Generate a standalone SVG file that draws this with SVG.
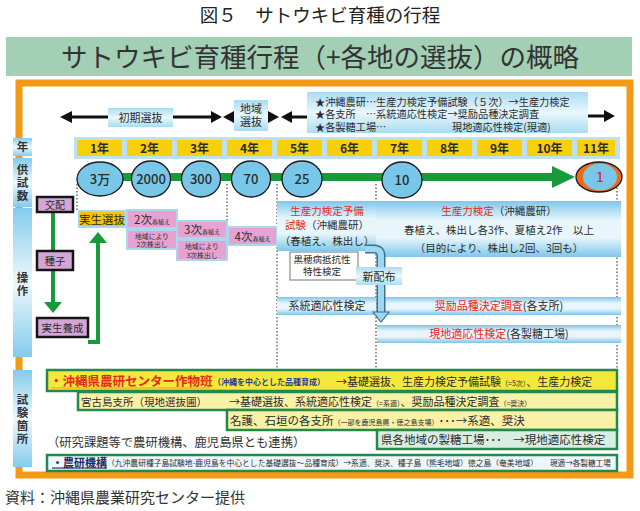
<svg xmlns="http://www.w3.org/2000/svg" width="640" height="511" viewBox="0 0 640 511">
<defs>
<linearGradient id="gBand" x1="0" y1="0" x2="0" y2="1">
<stop offset="0" stop-color="#7fc6ea"/><stop offset="0.35" stop-color="#e8f6fc"/><stop offset="0.65" stop-color="#e8f6fc"/><stop offset="1" stop-color="#7fc6ea"/>
</linearGradient>
<linearGradient id="gHead" x1="0" y1="0" x2="0" y2="1">
<stop offset="0" stop-color="#a9dcf2"/><stop offset="0.5" stop-color="#eaf7fd"/><stop offset="1" stop-color="#a9dcf2"/>
</linearGradient>
<linearGradient id="gLabel" x1="0" y1="0" x2="0" y2="1">
<stop offset="0" stop-color="#84cbed"/><stop offset="0.5" stop-color="#eef8fd"/><stop offset="1" stop-color="#84cbed"/>
</linearGradient>
<style>
text{font-family:'Noto Sans CJK JP','Noto Sans CJK SC',sans-serif;fill:#2b2b2b}
.c{text-anchor:middle}
.lab{fill:url(#gLabel)}
.lt{font-size:11.5px;font-weight:bold;fill:#333;text-anchor:middle;writing-mode:vertical-rl;letter-spacing:1.5px}
.yc{fill:#f8cf08}
.yt{font-size:12px;font-weight:bold;text-anchor:middle}
.circ{fill:#78c6e8;stroke:#1a1a1a;stroke-width:1.3}
.ct{font-size:13px;text-anchor:middle;font-weight:500}
.pur{fill:#d4a6d6;stroke:#151515;stroke-width:2.5}
.pink{fill:#e6a3d2;stroke:#a9d8ec;stroke-width:2}
.band{fill:url(#gBand)}
.head{fill:url(#gHead)}
.red{fill:#e8261a}
.dot{stroke:#555;stroke-width:1.3;stroke-dasharray:1.5 2;fill:none}
.blk{stroke:#111;stroke-width:3;fill:none}
.grn{stroke:#179a3a;fill:none}
.row{stroke:#23894c;stroke-width:2.5}
</style>
</defs>

<text x="320" y="22" class="c" style="font-size:18.5px;fill:#222">図５　サトウキビ育種の行程</text>
<rect x="6" y="37" width="626" height="39" fill="#a3cfb5"/>
<text x="320" y="67" class="c" style="font-size:26.5px;fill:#333">サトウキビ育種行程（+各地の選抜）の概略</text>

<rect x="19" y="83" width="611" height="392" fill="#fff" stroke="#f39a17" stroke-width="7"/>

<g id="connectors">
<line class="dot" x1="77" y1="184" x2="77" y2="210"/>
<line class="dot" x1="227" y1="184" x2="227" y2="222"/>
<line class="dot" x1="277" y1="184" x2="277" y2="370"/>
<line class="dot" x1="376" y1="184" x2="376" y2="370"/>
<line class="dot" x1="617" y1="184" x2="617" y2="370"/>
<line class="blk" x1="108" y1="117" x2="70" y2="117"/>
<polygon points="60,117 72,111 72,123" fill="#111"/>
<line class="blk" x1="173" y1="117" x2="212" y2="117"/>
<polygon points="222,117 211,111 211,123" fill="#111"/>
<polygon points="223,117 234,111 234,123" fill="#111"/>
<polygon points="279,117 268,111 268,123" fill="#111"/>
<line class="blk" x1="290" y1="117" x2="307" y2="117"/>
<polygon points="281,117 292,111 292,123" fill="#111"/>
<line class="blk" x1="588" y1="116" x2="605" y2="116"/>
<polygon points="615,116 604,110 604,122" fill="#111"/>
<line class="grn" x1="100" y1="177" x2="554" y2="177" stroke-width="8"/>
<polygon points="552,166 575,177 552,188" fill="#179a3a"/>
<line class="grn" x1="53" y1="212" x2="53" y2="303" stroke-width="4"/>
<polygon points="44,302 62,302 53,313" fill="#179a3a"/>
<path class="grn" d="M88,342 H98 V242" stroke-width="4"/>
<polygon points="89,243 107,243 98,232" fill="#179a3a"/>
</g>

<g id="labels">
<rect class="lab" x="13" y="138" width="19" height="18"/>
<text x="22.5" y="147.8" class="lt">年</text>
<rect class="lab" x="13" y="158" width="19" height="49"/>
<text x="22.5" y="183.5" class="lt">供試数</text>
<rect class="lab" x="13" y="208" width="19" height="149"/>
<text x="22.5" y="285" class="lt">操作</text>
<rect class="lab" x="13" y="370" width="19" height="97"/>
<text x="22.5" y="420" class="lt">試験箇所</text>
</g>

<g id="header">
<rect class="head" x="108" y="108" width="65" height="19"/>
<text x="140.5" y="122" class="c" style="font-size:11px">初期選抜</text>
<rect class="head" x="234" y="100" width="34" height="31"/>
<text class="c" style="font-size:11px"><tspan x="251" y="113">地域</tspan><tspan x="251" y="126">選抜</tspan></text>
<rect class="head" x="307" y="92" width="281" height="41"/>
<text style="font-size:10.2px"><tspan x="315" y="105.5">★沖縄農研…生産力検定予備試験（５次）→生産力検定</tspan><tspan x="315" y="118">★各支所　…系統適応性検定→奨励品種決定調査</tspan><tspan x="315" y="130.5">★各製糖工場…</tspan><tspan x="452" y="130.5">現地適応性検定(現適)</tspan></text>
</g>

<g id="years">
<rect x="74" y="137" width="546" height="22" fill="#bfe1ef"/>
<rect class="yc" x="77" y="140" width="45" height="16"/><text x="99.5" y="153" class="yt">1年</text>
<rect class="yc" x="127" y="140" width="45" height="16"/><text x="149.5" y="153" class="yt">2年</text>
<rect class="yc" x="177" y="140" width="45" height="16"/><text x="199.5" y="153" class="yt">3年</text>
<rect class="yc" x="227" y="140" width="45" height="16"/><text x="249.5" y="153" class="yt">4年</text>
<rect class="yc" x="277" y="140" width="45" height="16"/><text x="299.5" y="153" class="yt">5年</text>
<rect class="yc" x="327" y="140" width="45" height="16"/><text x="349.5" y="153" class="yt">6年</text>
<rect class="yc" x="377" y="140" width="45" height="16"/><text x="399.5" y="153" class="yt">7年</text>
<rect class="yc" x="427" y="140" width="45" height="16"/><text x="449.5" y="153" class="yt">8年</text>
<rect class="yc" x="477" y="140" width="45" height="16"/><text x="499.5" y="153" class="yt">9年</text>
<rect class="yc" x="527" y="140" width="45" height="16"/><text x="549.5" y="153" class="yt">10年</text>
<rect class="yc" x="577" y="140" width="38" height="16"/><text x="596" y="153" class="yt">11年</text>
</g>

<g id="counts">
<ellipse class="circ" cx="100" cy="179" rx="23" ry="17"/><text x="100" y="184" class="ct">3万</text>
<ellipse class="circ" cx="151" cy="179" rx="19.5" ry="18"/><text x="151" y="184" class="ct">2000</text>
<ellipse class="circ" cx="201" cy="179" rx="19.5" ry="18"/><text x="201" y="184" class="ct">300</text>
<ellipse class="circ" cx="251" cy="179" rx="19.5" ry="18"/><text x="251" y="184" class="ct">70</text>
<ellipse class="circ" cx="302" cy="179" rx="20" ry="18"/><text x="302" y="184" class="ct">25</text>
<ellipse class="circ" cx="402" cy="180" rx="20" ry="18"/><text x="402" y="185" class="ct">10</text>
<ellipse cx="599" cy="177" rx="23" ry="15" fill="#f06a1a" stroke="#1a1a1a" stroke-width="1.3"/>
<ellipse cx="600" cy="177" rx="17" ry="13.5" fill="#78c6e8"/>
<text x="600" y="182" class="ct" style="fill:#e0205f">1</text>
</g>

<g id="ops-left">
<rect class="pur" x="37" y="197" width="36" height="15"/><text x="55" y="208.5" class="c" style="font-size:10px">交配</text>
<rect class="pur" x="37" y="251" width="36" height="19"/><text x="55" y="264.5" class="c" style="font-size:10.5px">種子</text>
<rect class="pur" x="37" y="318" width="51" height="19"/><text x="62.5" y="331.5" class="c" style="font-size:10.5px">実生養成</text>
</g>

<g id="ops-select">
<rect x="79" y="211" width="46" height="16" fill="#f7c500" stroke="#a9d8ec" stroke-width="2"/>
<text x="102" y="223.5" class="c" style="font-size:11.5px">実生選抜</text>
<rect class="pink" x="127" y="210" width="50" height="18"/>
<text x="152" y="223.5" class="c"><tspan style="font-size:11.5px">2次</tspan><tspan style="font-size:6px">春植え</tspan></text>
<rect class="pink" x="127" y="230" width="50" height="19"/>
<text class="c" style="font-size:6.8px"><tspan x="152" y="238.5">地域により</tspan><tspan x="152" y="246.5">2次株出し</tspan></text>
<rect class="pink" x="177" y="221" width="50" height="17"/>
<text x="202" y="234" class="c"><tspan style="font-size:11.5px">3次</tspan><tspan style="font-size:6px">春植え</tspan></text>
<rect class="pink" x="177" y="240" width="50" height="20"/>
<text class="c" style="font-size:6.8px"><tspan x="202" y="249">地域により</tspan><tspan x="202" y="257.5">3次株出し</tspan></text>
<rect class="pink" x="228" y="227" width="49" height="18"/>
<text x="252.5" y="240.5" class="c"><tspan style="font-size:11.5px">4次</tspan><tspan style="font-size:6px">春植え</tspan></text>
</g>

<g id="ops-test">
<rect class="band" x="277" y="201" width="99" height="50"/>
<text class="c" style="font-size:10.5px"><tspan x="327" y="215" class="red">生産力検定予備</tspan><tspan x="327" y="228.5"><tspan class="red">試験</tspan>（沖縄農研）</tspan><tspan x="327" y="245">（春植え、株出し）</tspan></text>
<rect class="band" x="376" y="201" width="245" height="56"/>
<text class="c" style="font-size:10.5px"><tspan x="499" y="215"><tspan class="red">生産力検定</tspan>（沖縄農研）</tspan><tspan x="499" y="234">春植え、株出し各3作、夏植え2作　以上</tspan><tspan x="499" y="252">（目的により、株出し2回、3回も）</tspan></text>
<rect x="290" y="252" width="68" height="28" fill="#fff" stroke="#8a8a8a" stroke-width="1.2"/>
<text class="c" style="font-size:9.5px"><tspan x="322" y="263">黒穂病抵抗性</tspan><tspan x="322" y="275">特性検定</tspan></text>
<rect class="band" x="277" y="297" width="99" height="18"/>
<text x="327" y="310" class="c" style="font-size:11px">系統適応性検定</text>
<rect class="band" x="377" y="297" width="244" height="18"/>
<text x="499" y="310" class="c" style="font-size:11px"><tspan class="red">奨励品種決定調査</tspan>(各支所)</text>
<rect class="band" x="377" y="325" width="244" height="18"/>
<text x="499" y="338" class="c" style="font-size:11px"><tspan class="red">現地適応性検定</tspan>(各製糖工場)</text>
</g>

<g id="connector-distribution">
<path d="M365,249 H374 Q381,249 381,256 V313" fill="none" stroke="#3d7294" stroke-width="9"/>
<path d="M365,249 H374 Q381,249 381,256 V314" fill="none" stroke="#9dd8f2" stroke-width="6"/>
<polygon points="373,312 389,312 381,322" fill="#9dd8f2" stroke="#3d7294" stroke-width="1.2"/>
</g>

<g id="node-new">
<rect class="head" x="356" y="267" width="46" height="18"/>
<text x="379" y="280.5" class="c" style="font-size:11px">新配布</text>
</g>

<g id="sites">
<rect class="row" x="47" y="370" width="570" height="21" fill="#f4e93a"/>
<line x1="51" y1="388" x2="210" y2="388" stroke="#f0a010" stroke-width="1.2"/>
<text x="50" y="385.5" style="font-size:12.5px;font-weight:bold;fill:#e8261a">・沖縄県農研センター作物班</text>
<text x="213" y="384.5" style="font-size:8px;font-weight:bold;fill:#2a3a9a">（沖縄を中心とした品種育成）</text>
<text x="336" y="385.5" style="font-size:11px">→基礎選抜、生産力検定予備試験<tspan style="font-size:7px">（=5次）</tspan>、生産力検定</text>
<rect class="row" x="78" y="392" width="539" height="18" fill="#f8f1a6"/>
<text x="81" y="405.5" style="font-size:10.5px">宮古島支所（現地選抜圃）</text>
<text x="229" y="405.5" style="font-size:11px">→基礎選抜、系統適応性検定<tspan style="font-size:7px">（=系適）</tspan>、奨励品種決定調査<tspan style="font-size:7px">（=奨決）</tspan></text>
<rect class="row" x="227" y="410" width="390" height="20" fill="#f8f1a6"/>
<text x="230" y="424.5" style="font-size:11.5px">名護、石垣の各支所<tspan style="font-size:7px">（一部を鹿児島県・徳之島支場）</tspan>･･･→系適、奨決</text>
<rect class="row" x="377" y="430" width="240" height="19" fill="#d9eee2"/>
<text x="381" y="444" style="font-size:11.5px">県各地域の製糖工場･･･　→現地適応性検定</text>
<text x="47" y="447" style="font-size:12.3px;fill:#333">（研究課題等で農研機構、鹿児島県とも連携）</text>
<rect class="row" x="47" y="455" width="570" height="16" fill="#eef6fb"/>
<text x="52" y="466.5" style="font-size:11px;font-weight:bold;fill:#1f2a60;text-decoration:underline">・農研機構</text>
<text x="107" y="466" style="font-size:7.6px" textLength="431" lengthAdjust="spacingAndGlyphs">（九沖農研種子島試験地-鹿児島を中心とした基礎選抜～品種育成）→系適、奨決、種子島（熊毛地域）徳之島（奄美地域）</text>
<text x="550" y="466" style="font-size:7.6px">現適→各製糖工場</text>
</g>

<text x="5" y="503" style="font-size:15px;fill:#333">資料：沖縄県農業研究センター提供</text>
</svg>
